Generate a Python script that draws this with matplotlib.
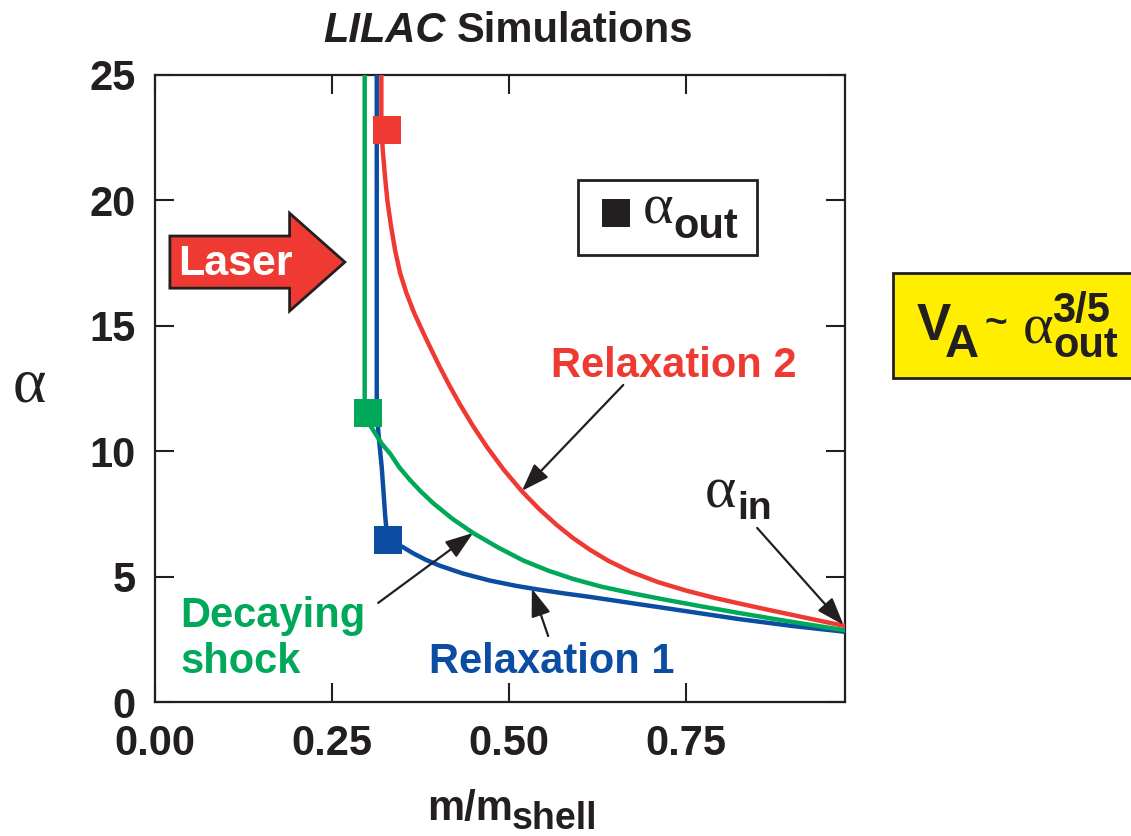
import matplotlib
matplotlib.use("Agg")
import matplotlib.pyplot as plt
from matplotlib.patches import Rectangle, FancyArrow
from matplotlib.lines import Line2D

W, H, DPI = 1131, 836, 100

# ---- data: areal density alpha versus Lagrangian mass coordinate ----
relax2_x = [0.3195, 0.3195, 0.3215, 0.3245, 0.328, 0.333, 0.339, 0.346, 0.355,
            0.366, 0.379, 0.390, 0.4025, 0.416, 0.4308, 0.449, 0.4685, 0.492,
            0.518, 0.542, 0.567, 0.590, 0.614, 0.640, 0.671, 0.710, 0.750,
            0.790, 0.826, 0.865, 0.900, 0.940, 0.974]
relax2_y = [25.0, 23.0, 22.0, 21.0, 20.0, 19.0, 18.0, 17.1, 16.3,
            15.5, 14.7, 14.05, 13.33, 12.6, 11.85, 11.0, 10.17, 9.27,
            8.40, 7.70, 7.06, 6.54, 6.07, 5.63, 5.20, 4.78, 4.44,
            4.15, 3.92, 3.68, 3.47, 3.23, 3.03]

shock_x = [0.296, 0.296, 0.300, 0.310, 0.320, 0.332, 0.345, 0.360, 0.375,
           0.393, 0.420, 0.4496, 0.485, 0.520, 0.555, 0.591, 0.630, 0.671,
           0.720, 0.770, 0.820, 0.870, 0.920, 0.974]
shock_y = [25.0, 11.6, 11.2, 10.75, 10.3, 9.9, 9.35, 8.85, 8.4,
           7.92, 7.3, 6.73, 6.15, 5.64, 5.24, 4.9, 4.6, 4.35,
           4.08, 3.82, 3.57, 3.33, 3.10, 2.86]

relax1_x = [0.313, 0.313, 0.314, 0.3154, 0.318, 0.320, 0.3225, 0.325, 0.327,
            0.3286, 0.338, 0.349, 0.365, 0.383, 0.4025, 0.435, 0.473, 0.510,
            0.544, 0.580, 0.614, 0.671, 0.750, 0.826, 0.900, 0.974]
relax1_y = [25.0, 12.0, 11.3, 10.71, 9.95, 9.38, 8.4, 7.39, 6.8,
            6.46, 6.32, 6.19, 5.92, 5.66, 5.43, 5.12, 4.84, 4.63,
            4.47, 4.32, 4.19, 3.95, 3.62, 3.30, 3.03, 2.80]

# alpha_out points (square markers)
out_x = [0.327, 0.301, 0.3286]
out_y = [22.8, 11.53, 6.46]

x_ticks = [0.0, 0.25, 0.50, 0.75]
x_tick_labels = ["0.00", "0.25", "0.50", "0.75"]
y_ticks = [0, 5, 10, 15, 20, 25]

RED = "#EE3A33"
GREEN = "#00A85A"
BLUE = "#0B4DA2"
YELLOW = "#FFEE00"
INK = "#231F20"

plt.rcParams["font.family"] = ["Liberation Sans", "DejaVu Sans"]
plt.rcParams["font.weight"] = "bold"

SANS = ["Liberation Sans", "DejaVu Sans"]
NARROW = ["Liberation Sans Narrow", "Liberation Sans", "DejaVu Sans"]
SERIF = ["Liberation Serif", "DejaVu Serif"]

fig = plt.figure(figsize=(W / DPI, H / DPI), dpi=DPI)
fig.patch.set_facecolor("white")


def fpx(x, y):
    """Pixel position (origin top-left) to figure fraction."""
    return x / W, 1 - y / H


def ftext(x, y, s, size=30, family=SANS, weight="bold", style="normal",
          color=INK, ha="left", va="baseline"):
    return fig.text(*fpx(x, y), s, fontsize=size, family=family,
                    weight=weight, style=style, color=color, ha=ha, va=va)


ax = fig.add_axes([155 / W, 1 - 702 / H, (845 - 155) / W, (702 - 75) / H])
ax.set_xlim(0, 0.974)
ax.set_ylim(0, 25)

for sp in ax.spines.values():
    sp.set_linewidth(1.6)
    sp.set_color(INK)

ax.set_xticks(x_ticks)
ax.set_xticklabels(x_tick_labels)
ax.set_yticks(y_ticks)
ax.tick_params(direction="in", length=13.5, width=1.5, color=INK,
               top=True, right=True, labelsize=30, labelcolor=INK)
ax.tick_params(axis="y", pad=14)
ax.tick_params(axis="x", pad=16)
for lab in ax.get_xticklabels() + ax.get_yticklabels():
    lab.set_fontweight("bold")

# curves
ax.plot(relax2_x, relax2_y, color=RED, lw=3.2, zorder=3.2,
        solid_joinstyle="round")
ax.plot(relax1_x, relax1_y, color=BLUE, lw=3.2, zorder=3,
        solid_joinstyle="round")
ax.plot(shock_x, shock_y, color=GREEN, lw=3.2, zorder=3.1,
        solid_joinstyle="round")

# alpha_out markers
for xm, ym, c in zip(out_x, out_y, [RED, GREEN, BLUE]):
    ax.plot([xm], [ym], "s", ms=20, color=c, mew=0, zorder=5, clip_on=False)

# pointer arrows
arrow_kw = dict(arrowstyle="-|>,head_length=0.85,head_width=0.3",
                color=INK, lw=1.6, mutation_scale=20, shrinkA=0, shrinkB=0)
ax.annotate("", xy=(0.518, 8.42), xytext=(0.661, 12.64), arrowprops=arrow_kw, zorder=6)
ax.annotate("", xy=(0.449, 6.74), xytext=(0.315, 3.95), arrowprops=arrow_kw, zorder=6)
ax.annotate("", xy=(0.532, 4.52), xytext=(0.555, 2.63), arrowprops=arrow_kw, zorder=6)
ax.annotate("", xy=(0.972, 3.07), xytext=(0.850, 6.94), arrowprops=arrow_kw,
            zorder=6, annotation_clip=False)

# laser block arrow
ax.add_patch(FancyArrow(0.021, 17.54, 0.247, 0, width=2.08, head_width=3.9,
                        head_length=0.078, length_includes_head=True,
                        fc=RED, ec=INK, lw=2.0, zorder=4))
ax.text(0.113, 17.03, "Laser", color="white", fontsize=31, weight="bold",
        ha="center", va="baseline", zorder=5)

# curve labels
ax.text(0.732, 12.97, "Relaxation 2", color=RED, fontsize=30, weight="bold",
        ha="center", va="baseline")
ftext(180, 627, "Decaying", color=GREEN)
ftext(180, 673, "shock", color=GREEN)
ftext(552, 673, "Relaxation 1", color=BLUE, ha="center")

# alpha_in
ftext(705, 508, "\u03b1", size=43, family=SERIF, weight="normal")
ftext(737, 519, "in", size=28)

# alpha_out key box
fig.add_artist(Rectangle(fpx(578, 255), (757 - 578) / W, (255 - 180) / H,
                         transform=fig.transFigure, fc="white", ec=INK, lw=2.0))
fig.add_artist(Line2D([616 / W], [1 - 213 / H], marker="s", ms=20, color=INK,
                      mew=0, transform=fig.transFigure))
ftext(643, 224, "\u03b1", size=42, family=SERIF, weight="normal")
ftext(673, 238, "out", size=30)

# scaling box
fig.add_artist(Rectangle(fpx(893, 378), (1140 - 893) / W, (378 - 273) / H,
                         transform=fig.transFigure, fc=YELLOW, ec=INK, lw=2.0))
ftext(917, 340, "V", size=37, family=NARROW)
ftext(945, 357, "A", size=34, family=NARROW)
ftext(985, 324, "~", size=28, va="center")
ftext(1023, 343, "\u03b1", size=42, family=SERIF, weight="normal")
ftext(1052, 322, "3/5", size=30)
ftext(1053, 357, "out", size=30)

# title
ftext(446, 42, "LILAC", style="italic", ha="right")
ftext(457, 42, "Simulations")

# axis labels
ftext(13, 401, "\u03b1", size=46, family=SERIF, weight="normal")
ftext(427, 820, "m/m", size=30)
ftext(512, 829, "shell", size=27)

fig.savefig("out.png", dpi=DPI)
